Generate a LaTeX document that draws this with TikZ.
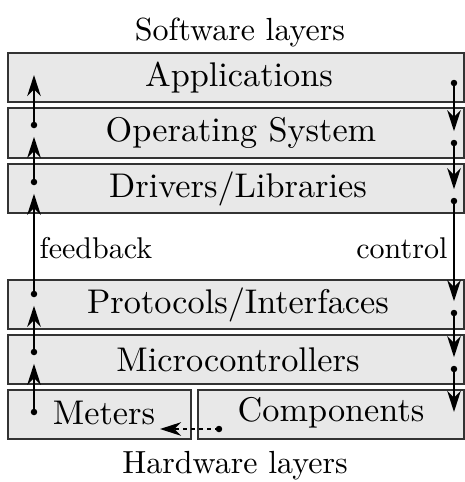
\documentclass[tikz,border=0pt]{standalone}
\usepackage{fontspec}
\setmainfont{lmroman10-regular.otf}
\usetikzlibrary{arrows.meta}
\begin{document}
\begin{tikzpicture}[x=0.2pt,y=-0.2pt,
  layer/.style={draw=black!80,fill=black!9,line width=0.32pt},
  boxtext/.style={font=\fontsize{6.85}{8}\selectfont},
  title/.style={font=\fontsize{6.4}{8}\selectfont},
  lbl/.style={font=\fontsize{6.0}{7}\selectfont},
  flow/.style={line width=0.35pt,-{Stealth[length=4.2pt,width=2.7pt,inset=1.3pt]},shorten >=1.5pt},
  pt/.style={circle,fill=black,inner sep=0pt,minimum size=1.3pt}]
\useasboundingbox (0,0) rectangle (465,482);
% boxes
\draw[layer] (8,53) rectangle (464,102);
\draw[layer] (8,108) rectangle (464,158);
\draw[layer] (8,164) rectangle (464,213);
\draw[layer] (8,280) rectangle (464,329);
\draw[layer] (8,335) rectangle (464,384);
\draw[layer] (8,390) rectangle (191,439);
\draw[layer] (198,390) rectangle (464,439);
% texts
\node[title] (sw) at (240,32) {Software layers};
\node[title] (hw) at (235,466) {Hardware layers};
\node[boxtext] (app) at (239,78) {Applications};
\node[boxtext] (os) at (241,133) {Operating System};
\node[boxtext] (drv) at (238,189) {Drivers/Libraries};
\node[boxtext] (pro) at (238,305) {Protocols/Interfaces};
\node[boxtext] (mc) at (238,360) {Microcontrollers};
\node[boxtext] (met) at (104,413) {Meters};
\node[boxtext] (cmp) at (331,413) {Components};
\node[lbl,anchor=west] (fb) at (22,248) {feedback};
\node[lbl,anchor=east] (ct) at (465,248) {control};
% left dots
\node[pt] (l1) at (34,412) {};
\node[pt] (l2) at (34,352) {};
\node[pt] (l3) at (34,294) {};
\node[pt] (l4) at (34,182) {};
\node[pt] (l5) at (34,125) {};
\coordinate (l6) at (34,75);
% right dots
\node[pt] (r1) at (454,83) {};
\node[pt] (r2) at (454,143) {};
\node[pt] (r3) at (454,201) {};
\node[pt] (r4) at (454,313) {};
\node[pt] (r5) at (454,369) {};
\coordinate (r6) at (454,412);
% dashed
\node[pt] (d1) at (219,429) {};
\coordinate (d2) at (160,429);
% arrows
\draw[flow] (l1.center) -- (l2);
\draw[flow] (l2.center) -- (l3);
\draw[flow] (l3.center) -- (l4);
\draw[flow] (l4.center) -- (l5);
\draw[flow,shorten >=0pt] (l5.center) -- (l6);
\draw[flow] (r1.center) -- (r2);
\draw[flow] (r2.center) -- (r3);
\draw[flow] (r3.center) -- (r4);
\draw[flow] (r4.center) -- (r5);
\draw[flow,shorten >=0pt] (r5.center) -- (r6);
\draw[flow,dash pattern=on 0.8pt off 0.8pt,shorten >=0pt] (d1.center) -- (d2);
\end{tikzpicture}
\end{document}
